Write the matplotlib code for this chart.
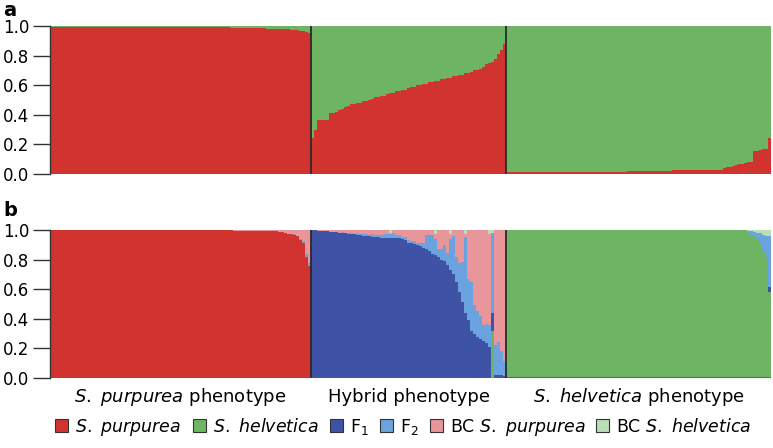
import matplotlib
matplotlib.use("Agg")
import matplotlib.pyplot as plt
from matplotlib.patches import Patch
import matplotlib.transforms as mtransforms

# ---------------- data ----------------
groups = ["$\\it{S.}$ $\\it{purpurea}$ phenotype", "Hybrid phenotype",
          "$\\it{S.}$ $\\it{helvetica}$ phenotype"]
cluster_labels = ["$\\it{S.}$ $\\it{purpurea}$", "$\\it{S.}$ $\\it{helvetica}$", "F$_1$", "F$_2$",
                  "BC $\\it{S.}$ $\\it{purpurea}$", "BC $\\it{S.}$ $\\it{helvetica}$"]
cluster_colors = ["#D1342F", "#6DB563", "#3F53A6", "#6BA3E0", "#E8959B", "#B9DFB9"]
yticks = [0.0, 0.2, 0.4, 0.6, 0.8, 1.0]
ytick_labels = ["0.0", "0.2", "0.4", "0.6", "0.8", "1.0"]

# Panel a (K=2): S. purpurea (red) and S. helvetica (green) membership
a_red_purp = ([0.993] * 30 + [0.99] * 30 + [0.987] * 10 + [0.985] * 2 +
              [0.983, 0.982, 0.981, 0.98, 0.98, 0.979, 0.978, 0.977] +
              [0.975, 0.972, 0.97, 0.967, 0.963, 0.958, 0.95])
a_green_purp = ([0.007] * 30 + [0.01] * 30 + [0.013] * 10 + [0.015] * 2 +
                [0.017, 0.018, 0.019, 0.02, 0.02, 0.021, 0.022, 0.023] +
                [0.025, 0.028, 0.03, 0.033, 0.037, 0.042, 0.05])
a_red_hyb = [0.24, 0.30, 0.365, 0.365, 0.365, 0.365, 0.41, 0.41, 0.42, 0.43,
             0.44, 0.45, 0.46, 0.47, 0.47, 0.48, 0.48, 0.49, 0.49, 0.50,
             0.51, 0.52, 0.52, 0.53, 0.53, 0.54, 0.55, 0.55, 0.56, 0.56,
             0.57, 0.57, 0.58, 0.59, 0.59, 0.60, 0.60, 0.61, 0.61, 0.62,
             0.62, 0.63, 0.63, 0.64, 0.64, 0.65, 0.65, 0.66, 0.66, 0.67,
             0.67, 0.68, 0.68, 0.69, 0.70, 0.70, 0.71, 0.72, 0.74, 0.75,
             0.76, 0.78, 0.81, 0.84, 0.88]
a_green_hyb = [0.76, 0.70, 0.635, 0.635, 0.635, 0.635, 0.59, 0.59, 0.58, 0.57,
               0.56, 0.55, 0.54, 0.53, 0.53, 0.52, 0.52, 0.51, 0.51, 0.50,
               0.49, 0.48, 0.48, 0.47, 0.47, 0.46, 0.45, 0.45, 0.44, 0.44,
               0.43, 0.43, 0.42, 0.41, 0.41, 0.40, 0.40, 0.39, 0.39, 0.38,
               0.38, 0.37, 0.37, 0.36, 0.36, 0.35, 0.35, 0.34, 0.34, 0.33,
               0.33, 0.32, 0.32, 0.31, 0.30, 0.30, 0.29, 0.28, 0.26, 0.25,
               0.24, 0.22, 0.19, 0.16, 0.12]
a_red_helv = ([0.012] * 20 + [0.015] * 20 + [0.02] * 15 + [0.025] * 10 + [0.03] * 7 +
              [0.04, 0.045, 0.05, 0.055, 0.06, 0.065, 0.07, 0.075, 0.08, 0.08] +
              [0.155, 0.157, 0.16, 0.17, 0.17, 0.24])
a_green_helv = ([0.988] * 20 + [0.985] * 20 + [0.98] * 15 + [0.975] * 10 + [0.97] * 7 +
                [0.96, 0.955, 0.95, 0.945, 0.94, 0.935, 0.93, 0.925, 0.92, 0.92] +
                [0.845, 0.843, 0.84, 0.83, 0.83, 0.76])

# Panel b (NewHybrids classes)
b_purp = {
    "red": [0.999] * 61 + [0.995] * 8 + [0.99] * 7 +
           [0.985, 0.985, 0.98, 0.975, 0.97, 0.965, 0.96, 0.93, 0.915, 0.82, 0.76],
    "green": [0.0] * 87,
    "F1": [0.0] * 87,
    "F2": [0.0] * 76 + [0, 0, 0, 0, 0, 0.008, 0, 0.008, 0.01, 0.015, 0.02],
    "BCp": [0.001] * 61 + [0.005] * 8 + [0.01] * 7 +
           [0.015, 0.015, 0.02, 0.025, 0.03, 0.027, 0.04, 0.062, 0.075, 0.165, 0.22],
    "BCh": [0.0] * 87,
}
b_hyb = {
    "red": [0.0] * 65,
    "green": [0.0] * 60 + [0.32] + [0.0] * 4,
    "F1": [1.0, 0.998, 0.995, 0.993, 0.99, 0.99, 0.988, 0.987, 0.985, 0.983,
           0.98, 0.978, 0.975, 0.972, 0.97, 0.967, 0.965, 0.962, 0.96, 0.957,
           0.955, 0.953, 0.95, 0.948, 0.947, 0.946, 0.945, 0.944, 0.944, 0.943,
           0.94, 0.93, 0.915, 0.91, 0.905, 0.90, 0.895, 0.88, 0.87, 0.855,
           0.84, 0.83, 0.815, 0.80, 0.79, 0.765, 0.73, 0.70, 0.65, 0.58,
           0.515, 0.44, 0.39, 0.32, 0.30, 0.28, 0.265, 0.25, 0.235, 0.21,
           0.12, 0.02, 0.02, 0.02, 0.015],
    "F2": [0, 0, 0, 0, 0, 0, 0, 0, 0, 0,
           0.005, 0, 0.005, 0.008, 0.005, 0.01, 0.008, 0.01, 0.012, 0.01,
           0.015, 0.012, 0.015, 0.02, 0.025, 0.03, 0.03, 0.035, 0.02, 0.025,
           0.015, 0.02, 0.02, 0.015, 0.02, 0.01, 0.02, 0.03, 0.095, 0.11,
           0.125, 0.11, 0.055, 0.07, 0.11, 0.08, 0.21, 0.26, 0.17, 0.20,
           0.27, 0.51, 0.28, 0.33, 0.19, 0.17, 0.155, 0.11, 0.13, 0.15,
           0.54, 0.20, 0.22, 0.16, 0.10],
    "BCp": [0, 0.002, 0.005, 0.007, 0.01, 0.01, 0.012, 0.013, 0.015, 0.017,
            0.015, 0.022, 0.02, 0.02, 0.025, 0.023, 0.027, 0.028, 0.028, 0.033,
            0.03, 0.035, 0.035, 0.032, 0.028, 0.024, 0.005, 0.021, 0.036, 0.032,
            0.045, 0.05, 0.065, 0.075, 0.075, 0.09, 0.085, 0.09, 0.035, 0.035,
            0.035, 0.03, 0.13, 0.13, 0.10, 0.155, 0.035, 0.04, 0.18, 0.22,
            0.215, 0.02, 0.33, 0.35, 0.51, 0.55, 0.58, 0.64, 0.635, 0.61,
            0.0, 0.78, 0.76, 0.82, 0.885],
    "BCh": [0.0] * 26 + [0.02] + [0.0] * 14 + [0.03] + [0.0] * 4 + [0.025] +
           [0.0] * 4 + [0.03] + [0.0] * 7 + [0.03, 0.02] + [0.0] * 4,
}
b_helv = {
    "red": [0.008] * 88,
    "green": [0.992] * 80 + [0.965, 0.955, 0.95, 0.93, 0.90, 0.85, 0.80, 0.575],
    "F1": [0.0] * 87 + [0.035],
    "F2": [0.0] * 80 + [0.02, 0.027, 0.03, 0.045, 0.07, 0.11, 0.15, 0.34],
    "BCp": [0.0] * 88,
    "BCh": [0.0] * 80 + [0.007, 0.01, 0.012, 0.017, 0.022, 0.032, 0.042, 0.042],
}

# ---------------- figure ----------------
W, H = 773, 448
fig = plt.figure(figsize=(W / 100, H / 100), dpi=100)

left = 50 / W
width = 720.7 / W
ax_a = fig.add_axes([left, 1 - 174 / H, width, 148 / H])
ax_b = fig.add_axes([left, 1 - 378 / H, width, 148 / H])


def stacked(ax, series_list, colors):
    n = len(series_list[0])
    x = list(range(n))
    bottom = [0.0] * n
    for vals, c in zip(series_list, colors):
        ax.bar(x, vals, bottom=bottom, width=1.0, align="edge", color=c,
               linewidth=0, antialiased=False)
        bottom = [b + v for b, v in zip(bottom, vals)]
    return n


# panel a
a_red = a_red_purp + a_red_hyb + a_red_helv
a_green = a_green_purp + a_green_hyb + a_green_helv
n_tot = stacked(ax_a, [a_red, a_green], cluster_colors[:2])

# panel b
keys = ["red", "green", "F1", "F2", "BCp", "BCh"]
b_series = [b_purp[k] + b_hyb[k] + b_helv[k] for k in keys]
stacked(ax_b, b_series, cluster_colors)

n1 = len(a_red_purp)
n2 = n1 + len(a_red_hyb)
for ax in (ax_a, ax_b):
    ax.set_xlim(0, n_tot)
    ax.set_ylim(0, 1)
    for s in ("top", "right", "bottom"):
        ax.spines[s].set_visible(False)
    ax.spines["left"].set_bounds(0, 1)
    ax.spines["left"].set_color("#333333")
    ax.spines["left"].set_linewidth(1.0)
    ax.set_xticks([])
    ax.set_yticks(yticks)
    ax.set_yticklabels(ytick_labels)
    ax.tick_params(axis="y", length=12, width=1.0, color="#333333",
                   labelsize=12, pad=3)
    for xb in (n1, n2):
        ax.axvline(xb, ymin=0, ymax=1, color="#2a2a2a", lw=1.3)

fig.text(0.004, 1 - 10 / H, "a", fontsize=14, fontweight="bold", va="center", ha="left")
fig.text(0.004, 1 - 210 / H, "b", fontsize=14, fontweight="bold", va="center", ha="left")

# group labels
trans = mtransforms.blended_transform_factory(ax_b.transData, ax_b.transAxes)
centers = [n1 / 2, (n1 + n2) / 2, (n2 + n_tot) / 2]
for cx, lab in zip(centers, groups):
    ax_b.text(cx, -19 / 148, lab, transform=trans, ha="center", va="center",
              fontsize=13)

# legend
handles = [Patch(facecolor=c, edgecolor="#333333", linewidth=0.8) for c in cluster_colors]
fig.legend(handles, cluster_labels, loc="center", bbox_to_anchor=(0.522, 1 - 427 / H),
           ncol=6, frameon=False, fontsize=12.5, handlelength=0.75, handleheight=0.75,
           handletextpad=0.4, columnspacing=0.65, borderaxespad=0)

fig.savefig("out.png", dpi=100)
